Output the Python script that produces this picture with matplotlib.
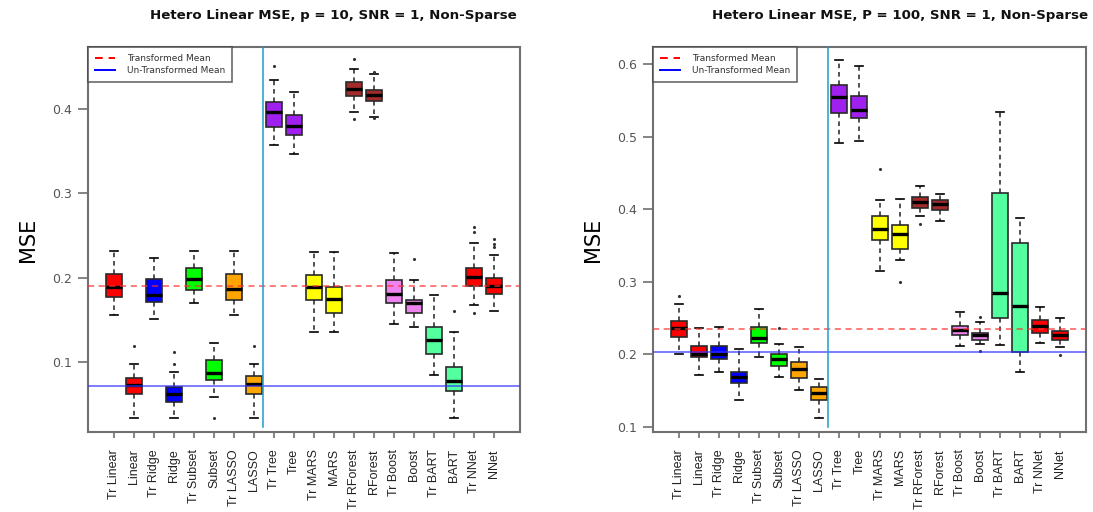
import matplotlib
matplotlib.use('Agg')
import matplotlib.pyplot as plt
from matplotlib.lines import Line2D

labels = ['Tr Linear', 'Linear', 'Tr Ridge', 'Ridge', 'Tr Subset', 'Subset',
          'Tr LASSO', 'LASSO', 'Tr Tree', 'Tree', 'Tr MARS', 'MARS',
          'Tr RForest', 'RForest', 'Tr Boost', 'Boost', 'Tr BART', 'BART',
          'Tr NNet', 'NNet']
box_colors = ['#FF0000', '#FF0000', '#0000FF', '#0000FF', '#00FF00', '#00FF00',
              '#FFA500', '#FFA500', '#A020F0', '#A020F0', '#FFFF00', '#FFFF00',
              '#A52A2A', '#A52A2A', '#EE82EE', '#EE82EE', '#54FF9F', '#54FF9F',
              '#FF0000', '#FF0000']

# ---- p = 10 panel ----
p10_whislo = [0.156, 0.034, 0.151, 0.034, 0.170, 0.059, 0.156, 0.034, 0.357, 0.347,
              0.135, 0.135, 0.397, 0.391, 0.145, 0.142, 0.084, 0.034, 0.167, 0.160]
p10_q1 = [0.177, 0.062, 0.171, 0.052, 0.185, 0.079, 0.174, 0.062, 0.379, 0.369,
          0.174, 0.158, 0.415, 0.409, 0.170, 0.158, 0.110, 0.066, 0.190, 0.181]
p10_med = [0.189, 0.073, 0.180, 0.062, 0.199, 0.087, 0.187, 0.074, 0.396, 0.380,
           0.189, 0.175, 0.424, 0.416, 0.181, 0.170, 0.126, 0.078, 0.201, 0.190]
p10_q3 = [0.204, 0.081, 0.198, 0.070, 0.212, 0.102, 0.204, 0.083, 0.408, 0.393,
          0.203, 0.189, 0.432, 0.423, 0.197, 0.173, 0.142, 0.094, 0.211, 0.200]
p10_whishi = [0.232, 0.098, 0.223, 0.088, 0.232, 0.123, 0.232, 0.098, 0.434, 0.420,
              0.231, 0.231, 0.447, 0.442, 0.229, 0.197, 0.180, 0.135, 0.241, 0.227]
p10_fliers = [[], [0.119], [], [0.112, 0.098], [], [0.034], [], [0.119], [0.451], [],
              [], [], [0.459, 0.388], [0.444, 0.389], [], [0.222], [], [0.161],
              [0.260, 0.254, 0.158], [0.246, 0.240, 0.236]]
p10_tr_mean = 0.190
p10_untr_mean = 0.072

# ---- p = 100 panel ----
p100_whislo = [0.200, 0.171, 0.175, 0.137, 0.197, 0.169, 0.151, 0.112, 0.491, 0.494,
               0.315, 0.330, 0.391, 0.384, 0.212, 0.214, 0.213, 0.175, 0.215, 0.210]
p100_q1 = [0.224, 0.196, 0.193, 0.160, 0.215, 0.184, 0.168, 0.137, 0.532, 0.525,
           0.358, 0.345, 0.401, 0.399, 0.226, 0.220, 0.250, 0.203, 0.230, 0.220]
p100_med = [0.236, 0.201, 0.201, 0.169, 0.223, 0.194, 0.180, 0.147, 0.554, 0.537,
            0.373, 0.366, 0.410, 0.407, 0.233, 0.227, 0.284, 0.266, 0.239, 0.226]
p100_q3 = [0.246, 0.212, 0.212, 0.175, 0.237, 0.200, 0.189, 0.155, 0.571, 0.556,
           0.390, 0.378, 0.417, 0.413, 0.239, 0.230, 0.423, 0.353, 0.247, 0.232]
p100_whishi = [0.270, 0.236, 0.237, 0.208, 0.262, 0.214, 0.210, 0.166, 0.605, 0.597,
               0.412, 0.414, 0.432, 0.421, 0.259, 0.244, 0.534, 0.388, 0.265, 0.250]
p100_fliers = [[0.280], [], [], [], [], [0.236], [], [], [], [],
               [0.455], [0.299], [0.380], [], [], [0.252, 0.204], [], [], [], [0.199]]
p100_tr_mean = 0.235
p100_untr_mean = 0.203

W, H = 1093, 512
fig = plt.figure(figsize=(W / 100, H / 100), dpi=100)

FRAME = '#707070'


def draw_panel(rect, whislo, q1, med, q3, whishi, fliers, tr_mean, untr_mean,
               ylim, yticks, vline_bottom, title, title_x):
    ax = fig.add_axes(rect)
    stats = []
    for i in range(len(labels)):
        stats.append(dict(whislo=whislo[i], q1=q1[i], med=med[i], q3=q3[i],
                          whishi=whishi[i], fliers=fliers[i]))
    bp = ax.bxp(stats, positions=range(1, len(labels) + 1), widths=0.8,
                patch_artist=True, capwidths=0.4,
                boxprops=dict(edgecolor='#2a2a2a', linewidth=1.2),
                medianprops=dict(color='black', linewidth=2.4),
                whiskerprops=dict(color='#222222', linewidth=1.1,
                                  linestyle=(0, (3, 2.5))),
                capprops=dict(color='black', linewidth=1.2),
                flierprops=dict(marker='.', markersize=2.5, markerfacecolor='#333333',
                                markeredgecolor='#333333', linestyle='none'))
    for patch, c in zip(bp['boxes'], box_colors):
        patch.set_facecolor(c)

    ax.axhline(tr_mean, color='#FF3030', linestyle=(0, (4, 3)), linewidth=1.1,
               alpha=0.8, zorder=5)
    ax.axhline(untr_mean, color='#3030FF', linewidth=1.1, alpha=0.8, zorder=5)
    ax.plot([8.45, 8.45], [vline_bottom, ylim[1]], color='#1E9CC8',
            linewidth=1.1, zorder=6)

    ax.set_xlim(-0.3, 21.3)
    ax.set_ylim(*ylim)
    ax.set_xticks(range(1, len(labels) + 1))
    ax.set_xticklabels(labels, rotation=90, fontsize=9, fontfamily='Liberation Sans')
    ax.set_yticks(yticks)
    ax.set_yticklabels([f'{t:.1f}' for t in yticks], fontsize=9)
    ax.tick_params(axis='both', colors=FRAME, width=1.2)
    ax.tick_params(axis='y', length=7.5, labelcolor='#555555', pad=4)
    ax.tick_params(axis='x', length=4.5, labelcolor='#222222', pad=8)
    for s in ax.spines.values():
        s.set_color(FRAME)
        s.set_linewidth(1.5)

    handles = [Line2D([], [], color='#FF0000', linestyle=(0, (4, 3)), linewidth=1.4),
               Line2D([], [], color='#0000FF', linewidth=1.4)]
    leg = ax.legend(handles, ['Transformed Mean', 'Un-Transformed Mean'],
                    loc='upper left', bbox_to_anchor=(0, 1), borderaxespad=0,
                    fontsize=6.5, handlelength=2.2, frameon=True, fancybox=False,
                    borderpad=0.75, labelspacing=0.35, handletextpad=1.4)
    leg.get_frame().set_edgecolor('#444444')
    leg.get_frame().set_linewidth(1.2)
    for t in leg.get_texts():
        t.set_color('#333333')

    ax.set_ylabel('MSE', fontsize=15, labelpad=10)
    fig.text(title_x, 1 - 15 / H, title, ha='center', va='center',
             fontsize=9.6, fontweight='bold', color='#111111')
    return ax


draw_panel([88 / W, 80 / H, 432 / W, 385 / H],
           p10_whislo, p10_q1, p10_med, p10_q3, p10_whishi, p10_fliers,
           p10_tr_mean, p10_untr_mean, (0.017, 0.4735), [0.1, 0.2, 0.3, 0.4],
           0.023, 'Hetero Linear MSE, p = 10, SNR = 1, Non-Sparse', 333 / W)
draw_panel([653 / W, 80 / H, 433 / W, 385 / H],
           p100_whislo, p100_q1, p100_med, p100_q3, p100_whishi, p100_fliers,
           p100_tr_mean, p100_untr_mean, (0.093, 0.6235), [0.1, 0.2, 0.3, 0.4, 0.5, 0.6],
           0.1, 'Hetero Linear MSE, P = 100, SNR = 1, Non-Sparse', 900 / W)

fig.savefig('out.png', dpi=100)
